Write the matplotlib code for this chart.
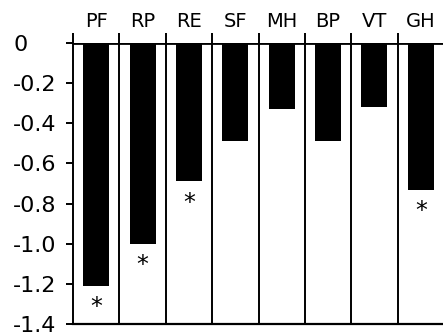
import numpy as np
import matplotlib.pyplot as plt

plt.rcParams['axes.unicode_minus'] = False
plt.rcParams['font.family'] = ['DejaVu Sans']

# data
scales = ["PF", "RP", "RE", "SF", "MH", "BP", "VT", "GH"]
values = [-1.21, -1.0, -0.69, -0.49, -0.33, -0.49, -0.32, -0.73]
signif = [True, True, True, False, False, False, False, True]
yticks = [0, -0.2, -0.4, -0.6, -0.8, -1.0, -1.2, -1.4]
ytick_labels = ["0", "-0.2", "-0.4", "-0.6", "-0.8", "-1.0", "-1.2", "-1.4"]

fig = plt.figure(figsize=(4.43, 3.35), dpi=100)
ax = fig.add_axes([73/443, 11/335, 371/443, 281/335])

x = np.arange(len(scales))
ax.bar(x, values, width=0.56, color="black")

# stars under significant bars
for xi, v, s in zip(x, values, signif):
    if s:
        ax.text(xi, v - 0.045, "*", ha="center", va="top", fontsize=17)

# category labels above the plot
for xi, name in zip(x, scales):
    ax.text(xi, 0.105, name, ha="center", va="center", fontsize=14)

# divider lines between categories, poking above the top
ax.vlines(np.arange(-0.5, len(scales) - 0.5, 1.0), -1.4, 0.05,
          color="black", lw=1.4, clip_on=False)
ax.axhline(0, color="black", lw=2.0)

ax.set_xlim(-0.5, len(scales) - 0.5)
ax.set_ylim(-1.4, 0)
ax.set_xticks([])
ax.set_yticks(yticks)
ax.set_yticklabels(ytick_labels, fontsize=16, ha="left")
ax.tick_params(axis="y", direction="out", length=5, width=1.4, pad=38)
for side in ["top", "right", "left"]:
    ax.spines[side].set_visible(False)
ax.spines["bottom"].set_linewidth(1.6)

fig.savefig("out.png", dpi=100)
